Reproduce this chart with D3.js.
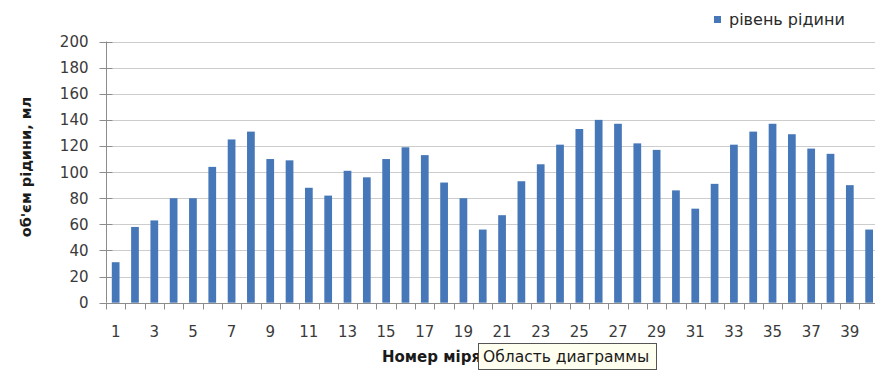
<!DOCTYPE html>
<html>
<head>
<meta charset="utf-8">
<script src="https://cdn.jsdelivr.net/npm/d3@7"></script>
<style>
  html, body { margin: 0; padding: 0; background: #ffffff; }
  svg { display: block; }
</style>
</head>
<body>
<svg id="chart" width="875" height="374"></svg>
<script>
// Measurement numbers and the liquid level read at each one
const measurements = d3.range(1, 41);
const liquidLevel = [
  31, 58, 63, 80, 80, 104, 125, 131, 110, 109,
  88, 82, 101, 96, 110, 119, 113, 92, 80, 56,
  67, 93, 106, 121, 133, 140, 137, 122, 117, 86,
  72, 91, 121, 131, 137, 129, 118, 114, 90, 56
];
const yTicks = [0, 20, 40, 60, 80, 100, 120, 140, 160, 180, 200];
const xTickLabels = measurements.filter(d => d % 2 === 1);

const seriesName = "рівень рідини";
const yTitle = "об'єм рідини, мл";
const xTitle = "Номер міряння";
const hoverTip = "Область диаграммы";

const svg = d3.select("#chart");
const barColor = "#4677b8";
const font = "'DejaVu Sans', Verdana, sans-serif";

const left = 106, step = 19.32;
const x = d3.scaleBand()
  .domain(measurements)
  .range([left, left + step * measurements.length])
  .paddingInner(0.6)
  .paddingOuter(0.3);
const y = d3.scaleLinear().domain([0, 200]).range([302.7, 41.5]);

// horizontal gridlines
svg.append("g")
  .selectAll("line")
  .data(yTicks.filter(d => d > 0))
  .join("line")
  .attr("x1", left).attr("x2", 875)
  .attr("y1", d => Math.round(y(d)) + 0.5).attr("y2", d => Math.round(y(d)) + 0.5)
  .attr("stroke", "#cdcdcd").attr("stroke-width", 1);

// bars
svg.append("g")
  .selectAll("rect")
  .data(liquidLevel)
  .join("rect")
  .attr("x", (d, i) => x(measurements[i]))
  .attr("width", x.bandwidth())
  .attr("y", d => y(d))
  .attr("height", d => y(0) - y(d))
  .attr("fill", barColor);

// y axis with crossing ticks
const yAxis = svg.append("g").attr("transform", `translate(${left + 0.5},0)`);
yAxis.append("line")
  .attr("y1", y(200)).attr("y2", y(0))
  .attr("stroke", "#8c8c8c");
yAxis.selectAll("line.tick")
  .data(yTicks)
  .join("line")
  .attr("class", "tick")
  .attr("x1", -7).attr("x2", 6)
  .attr("y1", d => Math.round(y(d)) + 0.5).attr("y2", d => Math.round(y(d)) + 0.5)
  .attr("stroke", "#8c8c8c");
yAxis.selectAll("text")
  .data(yTicks)
  .join("text")
  .attr("x", -18)
  .attr("y", d => y(d))
  .attr("dy", "0.36em")
  .attr("text-anchor", "end")
  .attr("font-family", font)
  .attr("font-size", 15)
  .attr("fill", "#3a3a3a")
  .text(d => d);

// x axis: ticks between categories, labels on odd measurements
const xAxis = svg.append("g").attr("transform", `translate(0,${Math.round(y(0)) + 0.5})`);
xAxis.append("line")
  .attr("x1", left).attr("x2", 875)
  .attr("stroke", "#8c8c8c");
xAxis.selectAll("line.tick")
  .data(d3.range(measurements.length + 1))
  .join("line")
  .attr("class", "tick")
  .attr("x1", i => Math.round(left + i * step) + 0.5)
  .attr("x2", i => Math.round(left + i * step) + 0.5)
  .attr("y1", 0).attr("y2", 6)
  .attr("stroke", "#8c8c8c");
xAxis.selectAll("text")
  .data(xTickLabels)
  .join("text")
  .attr("x", d => x(d) + x.bandwidth() / 2)
  .attr("y", 33)
  .attr("text-anchor", "middle")
  .attr("font-family", font)
  .attr("font-size", 15)
  .attr("fill", "#3a3a3a")
  .text(d => d);

// axis titles
svg.append("text")
  .attr("transform", "translate(31,167) rotate(-90)")
  .attr("text-anchor", "middle")
  .attr("font-family", font)
  .attr("font-weight", "bold")
  .attr("font-size", 14.5)
  .attr("fill", "#1a1a1a")
  .text(yTitle);

// the x title runs underneath the tooltip box, which hides its tail
svg.append("text")
  .attr("x", 382).attr("y", 362)
  .attr("font-family", font)
  .attr("font-weight", "bold")
  .attr("font-size", 15)
  .attr("fill", "#1a1a1a")
  .text(xTitle);

// legend
const legend = svg.append("g");
legend.append("rect")
  .attr("x", 714).attr("y", 16)
  .attr("width", 7).attr("height", 7)
  .attr("fill", barColor);
legend.append("text")
  .attr("x", 729).attr("y", 25)
  .attr("font-family", font)
  .attr("font-size", 16)
  .attr("fill", "#2a2a2a")
  .text(seriesName);

// hover tooltip over the chart area
const tip = svg.append("g");
tip.append("rect")
  .attr("x", 478.5).attr("y", 343.5)
  .attr("width", 178).attr("height", 26)
  .attr("fill", "#fffff0")
  .attr("stroke", "#555555");
tip.append("text")
  .attr("x", 483).attr("y", 362)
  .attr("font-family", font)
  .attr("font-size", 15.5)
  .attr("fill", "#1a1a1a")
  .text(hoverTip);
</script>
</body>
</html>
